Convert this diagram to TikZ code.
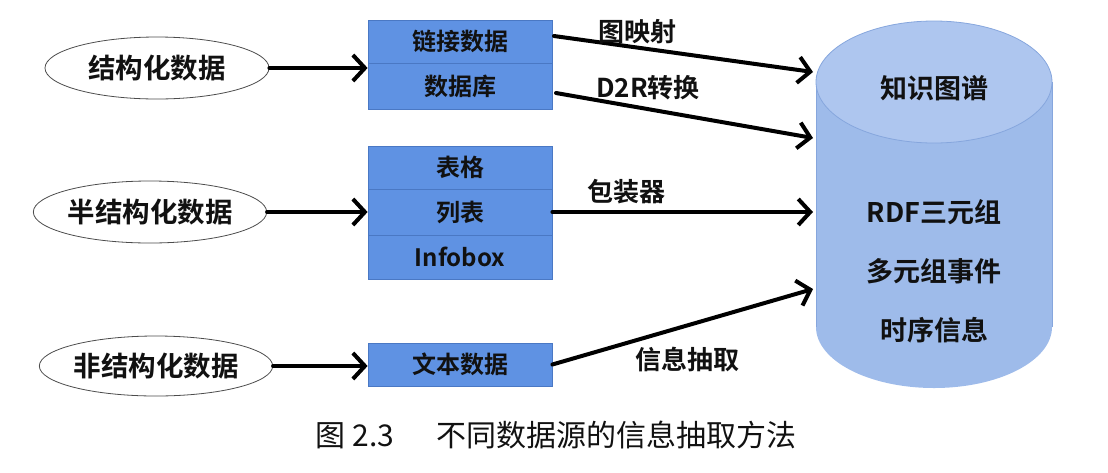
\documentclass[tikz,border=0pt]{standalone}
\usepackage{fontspec}
\usetikzlibrary{arrows.meta,shapes.geometric}
\newfontfamily\cjkb{Noto Sans CJK SC Bold}
\newfontfamily\cjkr{Noto Sans CJK SC}
\definecolor{boxfill}{HTML}{5F92E3}
\definecolor{boxline}{HTML}{4A78C4}
\definecolor{cylbody}{HTML}{9EBBEA}
\definecolor{cyltop}{HTML}{AEC6EF}
\definecolor{cylline}{HTML}{86A6DD}
\definecolor{ink}{HTML}{111111}
\tikzset{
  src/.style={ellipse,draw=black!70,line width=0.8pt,fill=white,inner sep=0pt,font=\cjkb\fontsize{27.5}{32}\selectfont,text=ink},
  row/.style={rectangle,draw=boxline,line width=0.8pt,fill=boxfill,minimum width=184pt,inner sep=0pt,font=\cjkb\fontsize{24}{28}\selectfont,text=ink},
  arr/.style={line width=4pt,-{Straight Barb[length=12pt,width=26pt,line width=4pt]},line cap=round,black},
  lab/.style={font=\cjkb\fontsize{26}{30}\selectfont,text=ink,inner sep=0pt},
  cyltxt/.style={font=\cjkb\fontsize{27}{32}\selectfont,text=ink,inner sep=0pt}
}
\begin{document}
\begin{tikzpicture}[x=1pt,y=-1pt]
\useasboundingbox (0,0) rectangle (1108,472);
% sources
\node[src,minimum width=224pt,minimum height=62pt] (e1) at (157,68) {结构化数据};
\node[src,minimum width=230pt,minimum height=62pt] (e2) at (150,212) {半结构化数据};
\node[src,minimum width=222pt,minimum height=60pt] (e3) at (156,366) {非结构化数据};
% boxes
\node[row,minimum height=43pt] (r1) at (460,41.5) {链接数据};
\node[row,minimum height=46pt] (r2) at (460,86) {数据库};
\node[row,minimum height=43pt] (t1) at (460,167.5) {表格};
\node[row,minimum height=46pt] (t2) at (460,212) {列表};
\node[row,minimum height=44pt] (t3) at (460,257) {Infobox};
\node[row,minimum height=43pt] (x1) at (460,364.5) {文本数据};
% cylinder
\fill[cylbody] (816,82) -- (816,327) arc[start angle=180,end angle=0,x radius=118,y radius=61] -- (1052,82) -- cycle;
\draw[cylline,line width=0.8pt] (816,82) -- (816,327);
\draw[cylline,line width=0.8pt] (1052,82) -- (1052,327);
\fill[cyltop,draw=cylline,line width=0.8pt] (934,82) ellipse[x radius=118,y radius=61];
\node[cyltxt] (k1) at (934,88) {知识图谱};
\node[cyltxt] (k2) at (934,212) {RDF三元组};
\node[cyltxt] (k3) at (934,271) {多元组事件};
\node[cyltxt] (k4) at (934,330) {时序信息};
\coordinate (c1) at (813,72);
\coordinate (c2) at (813,138);
\coordinate (c3) at (813,212);
\coordinate (c4) at (813,289);
\coordinate (s1) at (554,36);
\coordinate (s2) at (556,93);
% arrows from sources
\draw[arr] (e1.east |- 0,68) -- (r1.west |- 0,68);
\draw[arr] (e2.east) -- (t2.west);
\draw[arr] (e3.east) -- (x1.west |- e3.east);
% arrows to KG
\draw[arr] (s1) -- (c1);
\draw[arr] (s2) -- (c2);
\draw[arr] (t2.east) -- (c3);
\draw[arr] (x1.east) -- (c4);
% labels
\node[lab] (l1) at (637,32) {图映射};
\node[lab] (l2) at (648,88) {D2R转换};
\node[lab] (l3) at (626,192) {包装器};
\node[lab] (l4) at (687,360) {信息抽取};
% caption
\node[font=\cjkr\fontsize{30}{34}\selectfont,text=ink,inner sep=0pt] (cap) at (556,435) {图 2.3\hspace{1.4em}不同数据源的信息抽取方法};
\end{tikzpicture}
\end{document}
